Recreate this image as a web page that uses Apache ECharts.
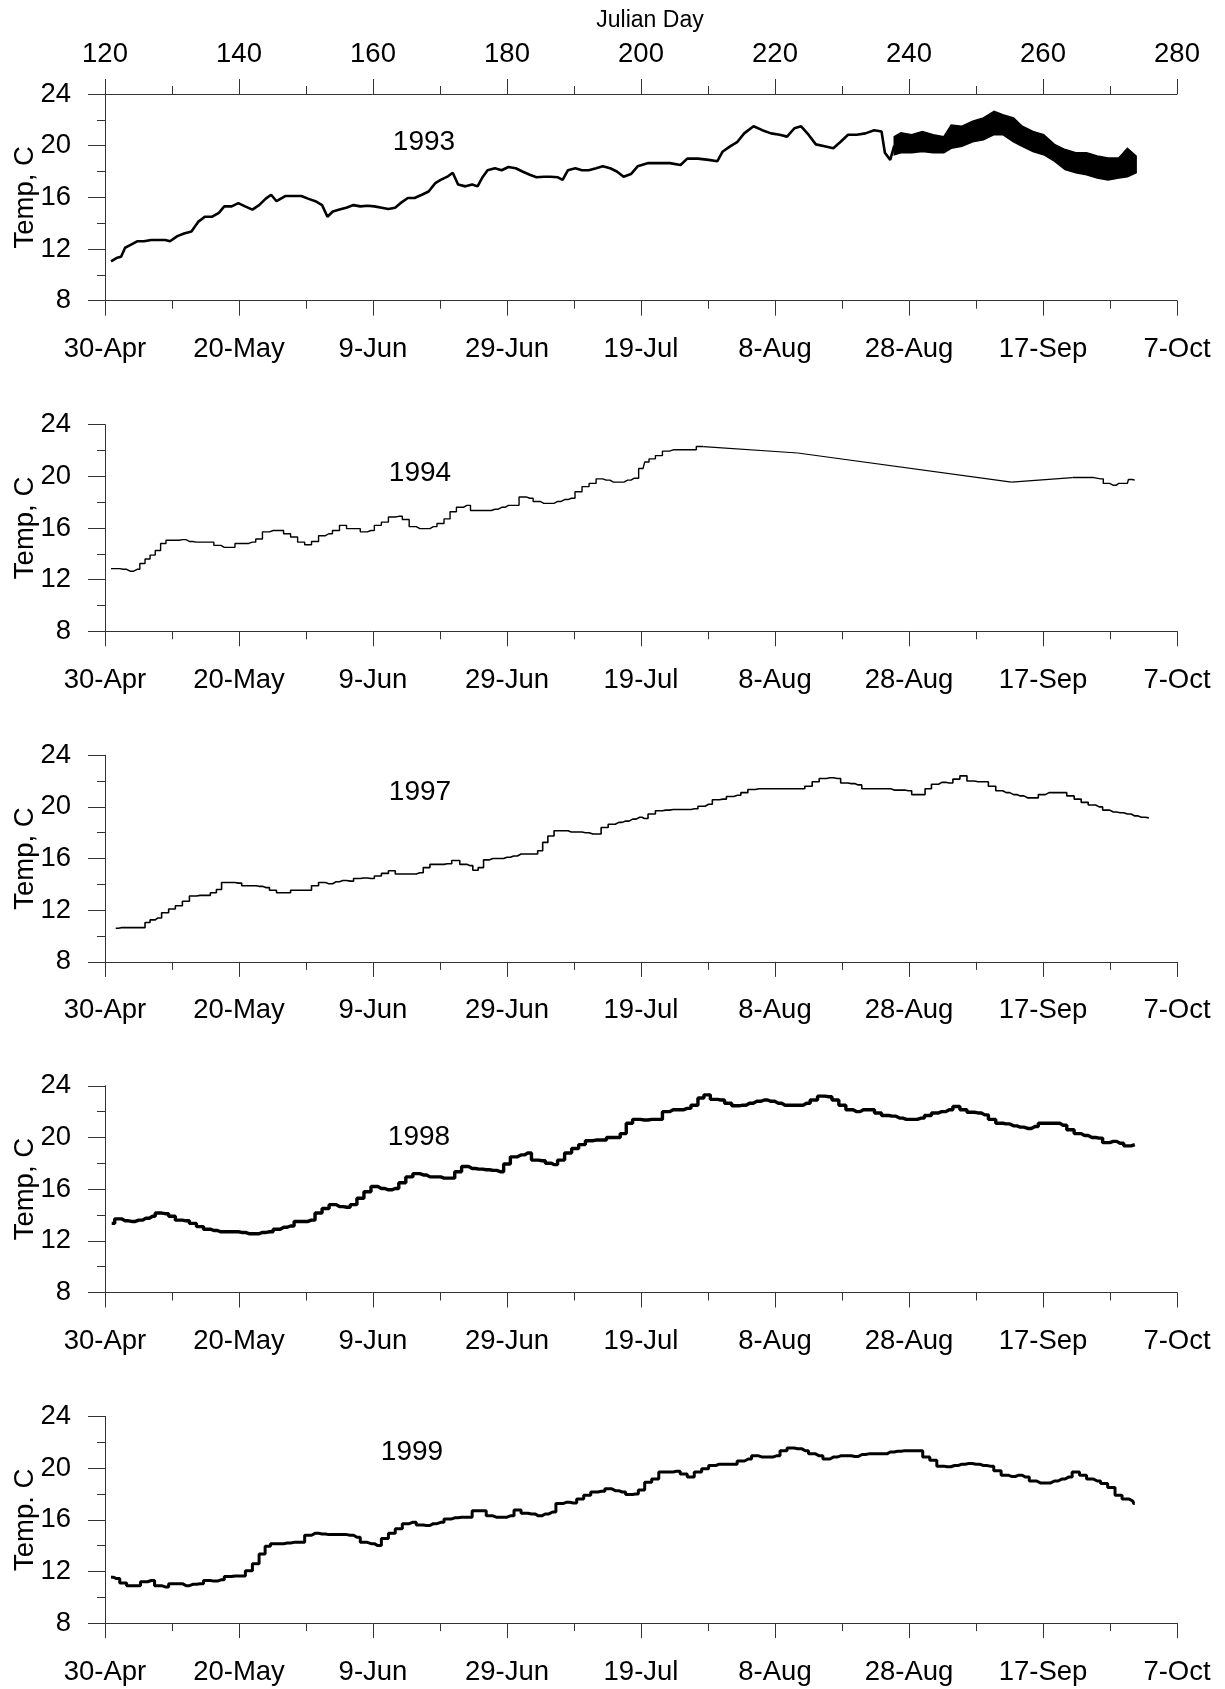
<!DOCTYPE html>
<html><head><meta charset="utf-8">
<script src="https://cdn.jsdelivr.net/npm/echarts/dist/echarts.min.js"></script>
<style>html,body{margin:0;padding:0;background:#fff}#c{width:1225px;height:1689px}</style>
</head><body><div id="c"></div><script>
// ---- tick labels / categories ----
const julianTicks = [120,140,160,180,200,220,240,260,280];
const dateLabels = ['30-Apr','20-May','9-Jun','29-Jun','19-Jul','8-Aug','28-Aug','17-Sep','7-Oct'];
const tempTicks = [8,12,16,20,24];
const years = ['1993','1994','1997','1998','1999'];
const yNames = ['Temp, C','Temp, C','Temp, C','Temp, C','Temp. C'];

// ---- 1993 (centre line, then dense band as low/high envelope) ----
const day93 = [120.9,121.7,122.4,123,123.75,124.8,125.8,126.9,127.9,129,
 129.7,130.8,131.8,132.9,133.9,134.9,136,137,137.8,138.9,
 139.9,140.9,142,143,144,144.8,145.6,146.9,148,149.3,
 150.3,151.4,152.4,153.2,154,155,156,157.1,158.1,159.2,
 160.2,161.3,162.3,163.3,164.1,165.2,166.2,167.3,168.3,169.3,
 170.1,171.1,171.9,172.7,173.8,174.8,175.6,176.4,177.1,178.2,
 179.2,180.2,181.3,182.3,183.4,184.4,185.5,186.5,187.6,188.3,
 189.1,190.2,191.2,192.2,193.3,194.3,195.4,196.4,197.4,198.5,199.5,
 201.1,202.7,204.3,205.9,206.9,208.5,210.1,211.4,212.2,213.3,
 214.4,215.4,216.8,218.1,219.4,220.7,221.8,222.9,223.9,225,
 226.1,227.4,228.7,229.8,230.9,232.2,233.5,234.8,235.9,236.4,
 237.2,237.8];
const temp93 = [11.05,11.3,11.4,12.1,12.3,12.6,12.6,12.7,12.7,12.7,
 12.6,13.0,13.2,13.35,14.1,14.5,14.5,14.8,15.3,15.3,
 15.55,15.3,15.05,15.4,15.9,16.2,15.7,16.1,16.1,16.1,
 15.9,15.7,15.4,14.5,14.9,15.05,15.2,15.4,15.3,15.35,
 15.3,15.2,15.1,15.2,15.55,15.95,15.95,16.2,16.45,17.1,
 17.35,17.6,17.9,17.0,16.85,17.0,16.85,17.6,18.1,18.25,
 18.1,18.35,18.25,18.0,17.75,17.55,17.6,17.6,17.55,17.35,
 18.1,18.25,18.1,18.1,18.25,18.4,18.25,18.0,17.6,17.8,18.4,
 18.65,18.65,18.65,18.5,19.0,19.0,18.9,18.8,19.55,19.95,
 20.3,20.95,21.5,21.2,20.95,20.85,20.7,21.35,21.5,20.85,
 20.1,19.95,19.8,20.3,20.85,20.85,20.95,21.2,21.1,19.45,
 18.9,20.0];
const band93Day = [237.8,238.8,240.4,242,243.6,245.2,246.3,247.9,249.5,251.1,252.7,254,255.6,256.9,258.5,260.1,261.7,263.3,264.9,266.5,268.1,269.7,271.3,272.6,273.9];
const band93Hi = [20.7,21.0,20.85,21.1,20.85,20.7,21.6,21.5,21.9,22.15,22.65,22.4,22.15,21.5,21.1,20.85,20.1,19.7,19.45,19.45,19.2,19.05,19.05,19.8,19.2];
const band93Lo = [19.3,19.45,19.45,19.55,19.45,19.45,19.8,19.95,20.3,20.45,20.85,20.85,20.3,19.95,19.55,19.3,18.8,18.15,17.9,17.75,17.5,17.35,17.5,17.6,17.9];

// ---- 1994 ----
const day94 = [120.9,121.7,122.7,123.75,124.8,125.6,126.35,127.1,127.9,128.7,
 129.5,130.5,131.6,132.6,133.6,134.7,135.7,136.8,137.8,138.9,
 139.9,140.9,142,143,144,145.1,146.1,147.2,148.2,149.3,
 150.3,151.35,152.4,153.4,154.5,155.5,156.6,157.6,158.6,159.7,
 160.7,161.8,162.8,163.85,164.9,165.9,167,168,169,170.1,
 171.1,171.9,173,174,175.1,176.1,177.1,178.2,179.2,180.2,
 181.3,182.3,183.4,184.4,185.5,186.5,187.55,188.6,189.6,190.7,
 191.7,192.8,193.8,194.8,195.9,196.9,198,199,200.3,200.8,
 201.6,202.7,203.7,204.8,207.2,209.3,223.4,255.3,264.4,266.5,
 268.6,269.4,270.5,271.3,272.6,272.9,273.7];
const temp94 = [12.85,12.85,12.8,12.65,12.8,13.25,13.6,13.9,14.25,14.8,
 15.05,15.05,15.1,14.95,14.9,14.9,14.9,14.65,14.5,14.5,
 14.8,14.8,14.9,15.15,15.7,15.8,15.8,15.55,15.3,14.9,
 14.7,14.95,15.4,15.55,15.8,16.2,15.95,15.95,15.7,15.8,
 16.2,16.45,16.85,16.9,16.65,16.1,15.95,15.95,16.1,16.35,
 16.7,17.25,17.6,17.75,17.35,17.35,17.35,17.45,17.6,17.75,
 17.75,18.4,18.3,18.05,17.9,17.9,18.05,18.2,18.3,18.8,
 19.2,19.45,19.8,19.7,19.55,19.55,19.7,19.85,20.6,21.1,
 21.35,21.6,21.95,22.05,22.05,22.3,21.8,19.55,19.9,19.9,
 19.8,19.45,19.3,19.45,19.45,19.75,19.7];

// ---- 1997 ----
const day97 = [121.6,122.4,123.5,124.5,125.6,126.35,127.1,127.9,129,130,
 131,132.1,133.1,134.2,135.2,136.25,137,137.8,138.9,139.9,
 140.9,142,143,144,145.1,146.1,147.2,148.2,149.3,150.3,
 151.35,152.4,153.4,154.5,155.5,156.6,157.6,158.6,159.7,160.7,
 161.8,162.8,163.85,164.9,165.9,167,168,169,170.1,171.1,
 172.4,173.5,174.5,175.3,176.1,176.9,177.9,179,180,181,
 182.1,183.1,184.2,184.95,185.7,186.5,187.55,188.6,189.6,190.7,
 191.7,192.8,193.5,194.6,195.6,196.7,197.7,198.75,199.8,200.5,
 201.6,202.7,203.7,204.8,205.9,206.9,208,209,210.1,211.2,
 212.2,213.3,214.4,215.4,216.5,217.6,218.6,219.7,220.7,221.8,
 222.9,223.9,225,226.1,227.1,228.2,229.3,230.3,231.4,232.4,
 233.5,234.6,235.6,236.7,237.8,238.8,239.9,240.9,242,242.8,
 243.9,244.9,246,247.1,248.1,249.2,250.3,251.3,252.4,253.5,
 254.5,255.6,256.6,257.7,258.8,259.8,260.9,262,263,264.1,
 265.2,266.2,267.3,268.4,269.4,270.5,271.5,272.6,273.7,274.7,
 275.8];
const temp97 = [10.6,10.65,10.65,10.65,10.65,11.05,11.25,11.4,11.8,12.1,
 12.35,12.7,13.1,13.15,13.15,13.35,13.6,14.15,14.15,14.1,
 13.9,13.9,13.85,13.75,13.55,13.35,13.35,13.55,13.55,13.55,
 13.9,14.15,14.05,14.2,14.3,14.25,14.45,14.5,14.45,14.65,
 14.85,15.05,14.8,14.8,14.8,14.9,15.3,15.55,15.55,15.6,
 15.85,15.55,15.45,15.1,15.3,15.9,16.0,16.0,16.1,16.2,
 16.35,16.35,16.35,16.6,17.25,17.75,18.15,18.15,18.05,18.05,
 18.0,17.9,17.9,18.4,18.65,18.8,18.9,19.05,19.2,19.1,
 19.45,19.7,19.75,19.8,19.8,19.8,19.85,20.05,20.2,20.55,
 20.6,20.8,20.9,21.1,21.35,21.4,21.4,21.4,21.4,21.4,
 21.4,21.4,21.6,21.95,22.2,22.25,22.2,21.85,21.8,21.7,
 21.4,21.4,21.4,21.4,21.3,21.3,21.25,20.95,20.95,21.4,
 21.75,21.9,21.85,22.15,22.4,22.0,21.95,21.95,21.6,21.25,
 21.1,20.95,20.85,20.7,20.7,20.95,21.1,21.1,21.1,20.85,
 20.6,20.35,20.15,20.0,19.75,19.6,19.55,19.45,19.3,19.2,
 19.15];

// ---- 1998 ----
const day98 = [121,121.9,123,124,125.05,126.1,127.1,127.9,129,130,
 131,132.1,133.1,134.2,135.2,136.25,137.3,138.3,139.4,140.4,
 141.5,142.5,143.5,144.6,145.6,146.7,147.7,148.75,149.8,150.8,
 151.9,152.9,154,155,156.1,157.1,158.1,159.2,160.2,161.25,
 162.3,163.3,164.4,165.4,166.5,167.5,168.5,169.6,170.6,171.7,
 172.7,173.75,174.8,175.8,176.9,177.9,179,180,181,182.1,
 183.1,184.2,185.2,186.25,187,188.1,189.1,190.2,191.2,192.2,
 193.3,194.3,195.4,196.4,197.4,198.2,199.3,
 200.5,201.6,202.7,203.7,204.8,205.9,206.9,208,209,209.8,
 210.9,211.95,213,214.1,215.2,216.2,217.3,218.4,219.4,220.5,
 221.5,222.6,223.7,224.7,225.8,226.9,228,229,230.05,231.1,
 232.2,233.2,234.3,235.4,236.4,237.5,238.6,239.6,240.7,241.8,
 242.8,243.9,244.9,246,247.1,248.1,249.2,250.3,251.3,252.4,
 253.5,254.5,255.6,256.6,257.7,258.8,259.8,260.9,262,263,
 264.1,265.2,266.2,267.3,268.4,269.4,270.5,271.5,272.6,273.7];
const temp98 = [13.35,13.7,13.55,13.5,13.6,13.75,13.9,14.15,14.1,13.9,
 13.6,13.55,13.35,13.1,12.9,12.8,12.7,12.7,12.7,12.65,
 12.55,12.55,12.65,12.7,12.9,13.05,13.15,13.5,13.5,13.6,
 14.15,14.5,14.8,14.65,14.6,14.8,15.3,15.8,16.2,16.05,
 15.95,16.05,16.5,16.95,17.2,17.1,16.95,16.95,16.85,16.85,
 17.35,17.75,17.6,17.55,17.5,17.45,17.35,17.95,18.5,18.65,
 18.8,18.25,18.2,18.0,17.9,18.25,18.8,19.15,19.45,19.75,
 19.8,19.8,20.0,20.0,20.3,21.1,21.4,
 21.35,21.4,21.4,22.0,22.15,22.15,22.25,22.5,23.05,23.3,
 22.95,22.9,22.65,22.45,22.5,22.65,22.8,22.9,22.8,22.65,
 22.5,22.5,22.5,22.65,22.9,23.2,23.15,22.9,22.5,22.15,
 22.0,22.15,22.15,21.9,21.7,21.65,21.5,21.4,21.4,21.5,
 21.7,21.9,22.0,22.15,22.4,22.15,21.95,21.9,21.75,21.4,
 21.1,21.05,20.9,20.8,20.7,20.85,21.1,21.1,21.1,20.95,
 20.6,20.3,20.15,20.0,19.95,19.6,19.7,19.55,19.35,19.45];

// ---- 1999 ----
const day99 = [120.9,121.7,122.7,123.75,124.8,125.8,126.9,127.9,129,130,
 131,132.1,133.1,134.2,135.2,136.25,137.3,138.3,139.4,140.4,
 141.5,142.5,143.5,144.3,145.1,146.1,147.2,148.2,149.3,150.3,
 151.35,152.4,153.4,154.5,155.5,156.6,157.6,158.6,159.7,160.7,
 161.8,162.8,163.85,164.9,165.9,167,168,169,170.1,171.1,
 172.2,173.2,174.3,175.3,176.4,177.4,178.4,179.5,180.5,181.6,
 182.6,183.65,184.7,185.7,186.8,187.8,188.85,189.9,190.9,192,
 193,194.1,195.1,196.15,197.2,198.2,199.2,200,
 201.1,202.1,203.2,204.3,205.3,206.4,207.4,208.5,209.6,210.6,
 211.7,212.8,213.8,214.9,216,217,218.1,219.1,220.2,221.3,
 222.3,223.4,224.5,225.5,226.6,227.7,228.7,229.8,230.9,231.9,
 233,234,235.1,236.2,237.2,238.3,239.4,240.4,241.5,242.6,
 243.6,244.7,245.7,246.8,247.9,248.9,250,251.1,252.1,253.2,
 254.3,255.3,256.4,257.4,258.5,259.6,260.6,261.7,262.8,263.8,
 264.9,266,267,268.1,269.1,270.2,271.3,272.3,273.4,273.7];
const temp99 = [11.55,11.45,11.1,10.9,10.9,11.2,11.3,10.9,10.8,11.05,
 11.05,10.9,11.0,11.05,11.3,11.25,11.35,11.6,11.65,11.65,
 12.05,12.6,13.35,13.95,14.15,14.15,14.2,14.25,14.25,14.8,
 14.95,14.9,14.85,14.85,14.85,14.8,14.65,14.25,14.15,14.0,
 14.55,14.95,15.3,15.7,15.8,15.6,15.55,15.7,15.8,16.05,
 16.15,16.2,16.2,16.7,16.7,16.3,16.2,16.2,16.3,16.75,
 16.5,16.45,16.3,16.45,16.6,17.25,17.35,17.3,17.6,17.9,
 18.15,18.2,18.4,18.25,18.15,17.95,18.0,18.3,
 18.9,19.15,19.7,19.7,19.75,19.55,19.3,19.7,19.95,20.2,
 20.3,20.3,20.3,20.55,20.7,20.95,20.85,20.85,20.95,21.35,
 21.55,21.5,21.35,21.1,20.95,20.7,20.85,20.95,20.95,20.9,
 21.05,21.1,21.1,21.1,21.25,21.3,21.35,21.35,21.35,20.85,
 20.6,20.15,20.1,20.2,20.3,20.35,20.3,20.2,20.15,19.8,
 19.45,19.35,19.45,19.3,19.0,18.85,18.85,19.0,19.15,19.3,
 19.7,19.45,19.15,19.0,18.8,18.5,17.9,17.6,17.45,17.25];

// ---- layout ----
const FONT = "'Liberation Sans', Arial, Helvetica, sans-serif";
const FS = 27.5;
const L = 105, W = 1072, T0 = 94, H = 206.7, STEP = 330.6;
const AX = '#333';
const zip = (a, b) => a.map((d, i) => [d, b[i]]);

const grids = [], xAxes = [], yAxes = [], series = [], graphics = [];
for (let i = 0; i < 5; i++) {
  grids.push({left: L, top: T0 + i * STEP, width: W, height: H, containLabel: false, outerBoundsMode: 'none'});
  xAxes.push({
    type: 'value', gridIndex: i, position: 'bottom', min: 120, max: 280, interval: 20,
    axisLine: {show: true, onZero: false, lineStyle: {color: AX, width: 1}},
    axisTick: {show: true, inside: false, length: 15, lineStyle: {color: AX, width: 1}},
    minorTick: {show: true, splitNumber: 2, length: 8, lineStyle: {color: AX, width: 1}},
    splitLine: {show: false}, minorSplitLine: {show: false},
    axisLabel: {show: true, margin: 35, fontSize: FS, color: '#000', fontFamily: FONT,
      formatter: v => dateLabels[julianTicks.indexOf(v)] || ''}
  });
  yAxes.push({
    type: 'value', gridIndex: i, position: 'left', min: 8, max: 24, interval: 4,
    axisLine: {show: true, onZero: false, lineStyle: {color: AX, width: 1}},
    axisTick: {show: true, inside: false, length: 17, lineStyle: {color: AX, width: 1}},
    minorTick: {show: true, splitNumber: 2, length: 8, lineStyle: {color: AX, width: 1}},
    splitLine: {show: false}, minorSplitLine: {show: false},
    axisLabel: {show: true, margin: 34, fontSize: FS, color: '#000', fontFamily: FONT,
      formatter: v => tempTicks.includes(v) ? String(v) : ''},
    name: yNames[i], nameLocation: 'middle', nameRotate: 90, nameGap: 66, nameMoveOverlap: false,
    nameTextStyle: {fontSize: FS, color: '#000', fontFamily: FONT}
  });
}
// top Julian Day axis on first panel
xAxes.push({
  type: 'value', gridIndex: 0, position: 'top', min: 120, max: 280, interval: 20,
  axisLine: {show: true, onZero: false, lineStyle: {color: AX, width: 1}},
  axisTick: {show: true, inside: false, length: 15, lineStyle: {color: AX, width: 1}},
  minorTick: {show: true, splitNumber: 2, length: 8, lineStyle: {color: AX, width: 1}},
  splitLine: {show: false}, minorSplitLine: {show: false},
  axisLabel: {show: true, margin: 26, fontSize: FS, color: '#000', fontFamily: FONT,
    formatter: v => julianTicks.includes(v) ? String(v) : ''},
  name: 'Julian Day', nameLocation: 'middle', nameGap: 62, nameMoveOverlap: false,
  nameTextStyle: {fontSize: 23, color: '#000', fontFamily: FONT, padding: [0, 0, 0, 18]}
});

const lineBase = (xi, data, width, step) => ({
  type: 'line', xAxisIndex: xi, yAxisIndex: xi, data: data, symbol: 'none',
  step: step || false, silent: true, z: 3,
  lineStyle: {color: '#000', width: width, join: 'bevel'}
});

// 1993 centre line
series.push(lineBase(0, zip(day93, temp93), 2.6));
// 1993 dense part: filled envelope between read low and high values
series.push({
  type: 'custom', xAxisIndex: 0, yAxisIndex: 0, silent: true, z: 3,
  data: band93Day.map((d, i) => [d, band93Lo[i], band93Hi[i]]),
  encode: {x: 0, y: [1, 2]},
  renderItem: function (params, api) {
    if (params.dataIndex !== 0) return {type: 'group', children: []};
    const pts = [];
    for (let i = 0; i < band93Day.length; i++) pts.push(api.coord([band93Day[i], band93Hi[i]]));
    for (let i = band93Day.length - 1; i >= 0; i--) pts.push(api.coord([band93Day[i], band93Lo[i]]));
    return {type: 'polygon', shape: {points: pts}, style: {fill: '#000', stroke: '#000', lineWidth: 1.5}};
  }
});

// 1994: stepped dense segments, straight lines across the data gaps
(function () {
  let cur = [[day94[0], temp94[0]]];
  for (let i = 1; i < day94.length; i++) {
    if (day94[i] - day94[i - 1] > 5) {
      if (cur.length > 1) series.push(lineBase(1, cur, 1.4, 'middle'));
      series.push(lineBase(1, [[day94[i - 1], temp94[i - 1]], [day94[i], temp94[i]]], 1.2));
      cur = [[day94[i], temp94[i]]];
    } else cur.push([day94[i], temp94[i]]);
  }
  if (cur.length > 1) series.push(lineBase(1, cur, 1.4, 'middle'));
})();

series.push(lineBase(2, zip(day97, temp97), 1.6, 'middle'));
series.push(lineBase(3, zip(day98, temp98), 3.4, 'middle'));
series.push(lineBase(4, zip(day99, temp99), 3.0, 'middle'));

const yearPos = [[424, 142], [420, 473], [420, 792], [419, 1137], [412, 1452]];
years.forEach((y, i) => graphics.push({
  type: 'text', x: yearPos[i][0], y: yearPos[i][1],
  style: {text: y, font: '28px ' + FONT, fill: '#000', textAlign: 'center', textVerticalAlign: 'middle'}
}));

const chart = echarts.init(document.getElementById('c'), null, {renderer: 'canvas'});
chart.setOption({
  animation: false,
  backgroundColor: '#fff',
  textStyle: {fontFamily: FONT},
  grid: grids, xAxis: xAxes, yAxis: yAxes, series: series, graphic: graphics
});
</script></body></html>
